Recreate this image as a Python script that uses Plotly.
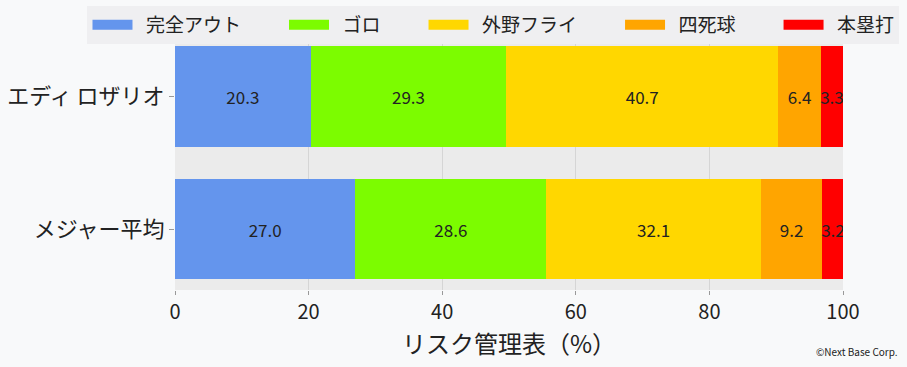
import plotly.graph_objects as go

players = ["エディ ロザリオ", "メジャー平均"]
categories = ["完全アウト", "ゴロ", "外野フライ", "四死球", "本塁打"]
rosario = [20.3, 29.3, 40.7, 6.4, 3.3]
mlb_avg = [27.0, 28.6, 32.1, 9.2, 3.2]
colors = ["#6495ED", "#7CFC00", "#FFD700", "#FFA500", "#FF0000"]
x_ticks = [0, 20, 40, 60, 80, 100]

y_order = ["メジャー平均", "エディ ロザリオ"]
values = {"エディ ロザリオ": rosario, "メジャー平均": mlb_avg}

fig = go.Figure()
for i, (cat, col) in enumerate(zip(categories, colors)):
    xs = [values[p][i] for p in y_order]
    fig.add_trace(go.Bar(
        x=xs, y=y_order, orientation="h", name=cat,
        marker=dict(color=col, line=dict(width=0)),
        text=[f"{v:.1f}" for v in xs], textposition="inside",
        insidetextanchor="middle", constraintext="none", textangle=0,
        textfont=dict(size=17, color="#222"), showlegend=False, hoverinfo="skip"))
for j, (cat, col) in enumerate(zip(categories, colors)):
    pad = "" if j == len(categories) - 1 else "\u3000\u3000"
    fig.add_trace(go.Scatter(x=[None], y=[None], mode="lines",
                             name="\u00a0\u00a0" + cat + pad,
                             line=dict(color=col, width=14), showlegend=True))

fig.update_layout(
    width=907, height=367,
    barmode="stack", bargap=0.245,
    paper_bgcolor="#f8f9fa", plot_bgcolor="#ebebeb",
    margin=dict(l=175, r=64, t=44, b=77, autoexpand=False),
    font=dict(family="Noto Sans CJK JP", color="#222"),
    legend=dict(orientation="h", traceorder="normal", x=-0.131, xanchor="left",
                y=1.155, yanchor="top",
                bgcolor="#efeff1", font=dict(size=19), itemwidth=40),
    xaxis=dict(range=[0, 100], tickvals=x_ticks, ticks="outside", ticklen=4,
               tickcolor="#999", tickfont=dict(size=20), showgrid=True,
               gridcolor="#d5d5d5", zeroline=False, automargin=False,
               title=dict(text="リスク管理表（%）", font=dict(size=24), standoff=8)),
    yaxis=dict(range=[-0.457, 1.395], categoryorder="array", categoryarray=y_order,
               ticks="outside", ticklen=5, tickcolor="#999", automargin=False,
               tickfont=dict(size=22), showgrid=False, zeroline=False),
    annotations=[dict(text="©Next Base Corp.", xref="paper", yref="paper",
                      x=1.085, y=-0.249, xanchor="right", yanchor="middle",
                      showarrow=False, font=dict(size=10, color="#222"))],
)
fig.write_html("out.html", config={"displayModeBar": False},
               post_script="document.body.style.margin='0px';")
